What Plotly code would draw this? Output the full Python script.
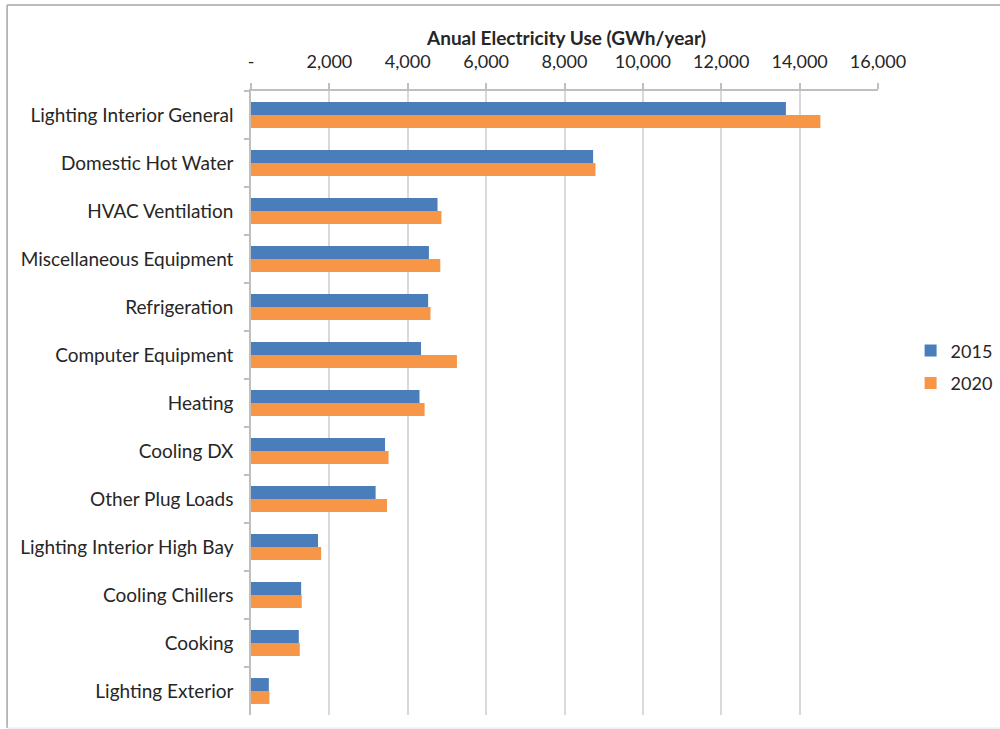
import plotly.graph_objects as go

# End-use categories, top to bottom
categories = [
    "Lighting Interior General",
    "Domestic Hot Water",
    "HVAC Ventilation",
    "Miscellaneous Equipment",
    "Refrigeration",
    "Computer Equipment",
    "Heating",
    "Cooling DX",
    "Other Plug Loads",
    "Lighting Interior High Bay",
    "Cooling Chillers",
    "Cooking",
    "Lighting Exterior",
]

# Annual electricity use (GWh/year)
use_2015 = [13650, 8730, 4760, 4540, 4520, 4340, 4300, 3420, 3180, 1710, 1280, 1220, 455]
use_2020 = [14530, 8790, 4860, 4830, 4580, 5255, 4430, 3510, 3470, 1790, 1295, 1245, 470]

tick_values = [0, 2000, 4000, 6000, 8000, 10000, 12000, 14000, 16000]
tick_labels = ["-", "2,000", "4,000", "6,000", "8,000", "10,000", "12,000", "14,000", "16,000"]

FONT = "Lato"
TEXT = "#262626"

fig = go.Figure()
fig.add_trace(go.Bar(
    y=categories, x=use_2015, name="2015", orientation="h", legendgroup="a",
    marker=dict(color="#4a7ebb", line=dict(width=0)),
))
fig.add_trace(go.Bar(
    y=categories, x=use_2020, name="2020", orientation="h", legendgroup="b",
    marker=dict(color="#f79646", line=dict(width=0)),
))

fig.update_layout(
    width=1000, height=729,
    margin=dict(l=251, r=122, t=91, b=14, autoexpand=False),
    paper_bgcolor="white", plot_bgcolor="white",
    barmode="group", bargap=0.46, bargroupgap=0,
    font=dict(family=FONT, size=18, color=TEXT),
    legend=dict(
        x=1.052, y=0.558, xanchor="left", yanchor="middle",
        font=dict(size=18, color=TEXT), itemwidth=30,
        traceorder="grouped", tracegroupgap=6,
        bgcolor="rgba(0,0,0,0)",
    ),
    xaxis=dict(
        side="top", range=[0, 16000], tickvals=tick_values, ticktext=tick_labels,
        showgrid=True, gridcolor="#d9d9d9", gridwidth=1.5,
        showline=True, linecolor="#bfbfbf", linewidth=1.5,
        ticks="outside", ticklen=6, tickcolor="#bfbfbf", tickwidth=1.5,
        ticklabelstandoff=8, zeroline=False,
        tickfont=dict(size=18, color=TEXT),
    ),
    yaxis=dict(
        autorange="reversed", showgrid=False,
        showline=True, linecolor="#bfbfbf", linewidth=1.5,
        ticks="outside", ticklen=5, tickcolor="#bfbfbf", tickwidth=1.5,
        tickson="boundaries", ticklabelstandoff=12,
        tickfont=dict(size=19, color=TEXT),
    ),
    annotations=[dict(
        text="<b>Anual Electricity Use (GWh/year)</b>",
        xref="paper", yref="paper", x=0.502, y=1.0865,
        xanchor="center", yanchor="middle", showarrow=False,
        font=dict(size=19, color=TEXT),
    )],
    shapes=[
        # chart-area frame (top and left edges, faint bottom)
        dict(type="line", xref="paper", yref="paper", x0=-0.389, x1=1.2, y0=1.1378, y1=1.1378,
             line=dict(color="#a6a6a6", width=1.5)),
        dict(type="line", xref="paper", yref="paper", x0=-0.389, x1=-0.389, y0=1.1378, y1=-0.021,
             line=dict(color="#a6a6a6", width=1.5)),
        dict(type="line", xref="paper", yref="paper", x0=-0.389, x1=1.2, y0=-0.021, y1=-0.021,
             line=dict(color="#e6e6e6", width=1)),
    ],
)

fig.write_html("out.html")
